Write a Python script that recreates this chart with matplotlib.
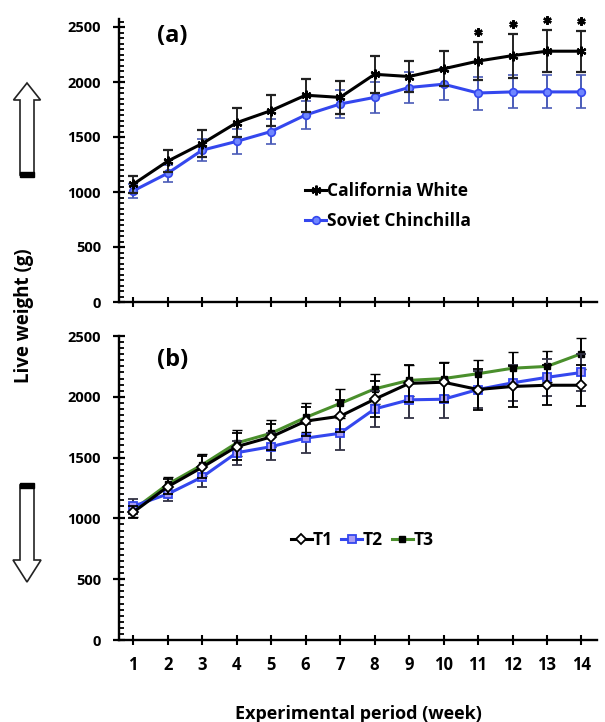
import matplotlib
matplotlib.use("Agg")
import matplotlib.pyplot as plt
from matplotlib.patches import Polygon, Rectangle
from matplotlib.lines import Line2D
from matplotlib.ticker import MultipleLocator

plt.rcParams['font.family'] = ['Open Sans', 'DejaVu Sans']
plt.rcParams['font.weight'] = 'bold'

weeks = list(range(1, 15))

# Panel (a)
cal_white = [1070, 1280, 1440, 1630, 1740, 1880, 1860, 2070, 2050, 2120, 2190, 2240, 2280, 2280]
cal_white_err = [80, 100, 120, 130, 140, 150, 150, 170, 140, 160, 175, 200, 190, 185]
sov_chin = [1010, 1170, 1380, 1460, 1550, 1700, 1800, 1860, 1950, 1980, 1900, 1910, 1910, 1910]
sov_chin_err = [60, 80, 100, 110, 110, 130, 130, 140, 140, 145, 150, 150, 150, 150]
sig_weeks = [11, 12, 13, 14]

# Panel (b)
t1 = [1050, 1260, 1420, 1590, 1670, 1800, 1840, 1980, 2110, 2120, 2060, 2085, 2095, 2095]
t1_err = [50, 60, 90, 110, 110, 120, 130, 150, 150, 160, 170, 165, 165, 170]
t2 = [1100, 1200, 1340, 1540, 1590, 1660, 1700, 1900, 1975, 1980, 2060, 2115, 2160, 2200]
t2_err = [60, 60, 80, 100, 110, 120, 140, 145, 150, 155, 150, 150, 150, 150]
t3 = [1070, 1280, 1440, 1620, 1700, 1830, 1945, 2065, 2135, 2150, 2190, 2235, 2250, 2355]
t3_err = [60, 60, 90, 110, 110, 120, 120, 125, 125, 135, 115, 130, 125, 125]

W, H = 605, 722
fig = plt.figure(figsize=(W / 100, H / 100), dpi=100)

def px_axes(left, top, right, bottom):
    return fig.add_axes([left / W, 1 - bottom / H, (right - left) / W, (bottom - top) / H])

ax1 = px_axes(119, 19.3, 597, 302)
ax2 = px_axes(119, 336, 597, 640)

BLUE = '#3447ee'
GREEN = '#4a8f2c'

def style(ax, ymax, labels):
    ax.set_xlim(0.59, 14.45)
    ax.set_ylim(0, ymax)
    for s in ['top', 'right']:
        ax.spines[s].set_visible(False)
    for s in ['left', 'bottom']:
        ax.spines[s].set_linewidth(1.7)
    ax.set_xticks(weeks)
    ax.yaxis.set_major_locator(MultipleLocator(500))
    ax.yaxis.set_minor_locator(MultipleLocator(50))
    ax.tick_params(axis='y', which='major', direction='inout', length=8, width=1.6,
                   labelsize=10.5, pad=9)
    ax.tick_params(axis='y', which='minor', direction='in', length=3.5, width=1.3)
    ax.tick_params(axis='x', which='major', direction='inout', length=7, width=1.5,
                   labelsize=12, pad=8)
    if not labels:
        ax.tick_params(axis='x', labelbottom=False)
    for lab in ax.get_xticklabels() + ax.get_yticklabels():
        lab.set_fontweight('bold')

style(ax1, 2570, False)
style(ax2, 2500, True)

ekw = dict(elinewidth=1.4, capsize=3.5, capthick=1.4)

# Panel (a)
ax1.errorbar(weeks, cal_white, yerr=cal_white_err, color='black', lw=2.2,
             marker=(6, 2, 0), ms=7, mew=1.6, ecolor='#222222', zorder=3, **ekw)
ax1.errorbar(weeks, sov_chin, yerr=sov_chin_err, color=BLUE, lw=2.2,
             marker='o', ms=5.5, mfc='#6f86ff', mec=BLUE, mew=1.2,
             ecolor='#4a5bb8', zorder=2, **ekw)
sig_y = [cal_white[w - 1] + cal_white_err[w - 1] + 90 for w in sig_weeks]
ax1.plot(sig_weeks, sig_y, ls='none', marker=(6, 2, 0), ms=6, mew=1.7,
         color='black', clip_on=False)
h1 = [Line2D([], [], color='black', lw=2.2, marker=(6, 2, 0), ms=7, mew=1.6),
      Line2D([], [], color=BLUE, lw=2.2, marker='o', ms=5.5, mfc='#6f86ff', mec=BLUE, mew=1.2)]
ax1.legend(h1, ['California White', 'Soviet Chinchilla'], loc='upper left',
           bbox_to_anchor=(0.375, 0.45), frameon=False, handlelength=1.2,
           handletextpad=0.05, labelspacing=0.7,
           prop={'size': 12.5, 'weight': 'bold'}, borderaxespad=0)

# Panel (b)
ax2.errorbar(weeks, t1, yerr=t1_err, color='black', lw=2.2, marker='D', ms=5,
             mfc='white', mec='black', mew=1.3, ecolor='black', zorder=3, **ekw)
ax2.errorbar(weeks, t2, yerr=t2_err, color=BLUE, lw=2.2, marker='s', ms=5.5,
             mfc='#a99cf2', mec=BLUE, mew=1.3, ecolor='#333344', zorder=2, **ekw)
ax2.errorbar(weeks, t3, yerr=t3_err, color=GREEN, lw=2.2, marker='s', ms=5,
             mfc='black', mec='black', mew=1.0, ecolor='black', zorder=1, **ekw)
h2 = [Line2D([], [], color='black', lw=2.2, marker='D', ms=5, mfc='white', mec='black', mew=1.3),
      Line2D([], [], color=BLUE, lw=2.2, marker='s', ms=5.5, mfc='#a99cf2', mec=BLUE, mew=1.3),
      Line2D([], [], color=GREEN, lw=2.2, marker='s', ms=5, mfc='black', mec='black')]
ax2.legend(h2, ['T1', 'T2', 'T3'], loc='center left', bbox_to_anchor=(0.345, 0.33),
           frameon=False, ncol=3, handlelength=1.2, handletextpad=0.05,
           columnspacing=0.5, prop={'size': 12.5, 'weight': 'bold'}, borderaxespad=0)

ax1.text(0.08, 0.94, '(a)', transform=ax1.transAxes, fontsize=17, fontweight='bold',
         va='center', ha='left')
ax2.text(0.08, 0.92, '(b)', transform=ax2.transAxes, fontsize=17, fontweight='bold',
         va='center', ha='left')

ax2.set_xlabel('Experimental period (week)', fontsize=13, fontweight='bold', labelpad=22)

fig.text(24 / W, 1 - 316 / H, 'Live weight (g)', rotation=90, fontsize=13.5,
         fontweight='bold', ha='center', va='center')

# Decorative hollow arrows on the left margin (pixel overlay)
ov = fig.add_axes([0, 0, 1, 1], facecolor='none')
ov.set_xlim(0, W)
ov.set_ylim(H, 0)
ov.axis('off')
cx = 27
up = [(cx, 83), (cx + 13.5, 100), (cx + 7, 100), (cx + 7, 175), (cx - 7, 175),
      (cx - 7, 100), (cx - 13.5, 100)]
ov.add_patch(Polygon(up, closed=True, fc='white', ec='#222222', lw=1.2))
ov.add_patch(Rectangle((cx - 7, 172), 14, 5, fc='black', ec='black'))
down = [(cx, 582), (cx + 14, 560), (cx + 7, 560), (cx + 7, 485), (cx - 7, 485),
        (cx - 7, 560), (cx - 14, 560)]
ov.add_patch(Polygon(down, closed=True, fc='white', ec='#222222', lw=1.2))
ov.add_patch(Rectangle((cx - 7, 483), 14, 5, fc='black', ec='black'))

fig.savefig('out.png', dpi=100)
